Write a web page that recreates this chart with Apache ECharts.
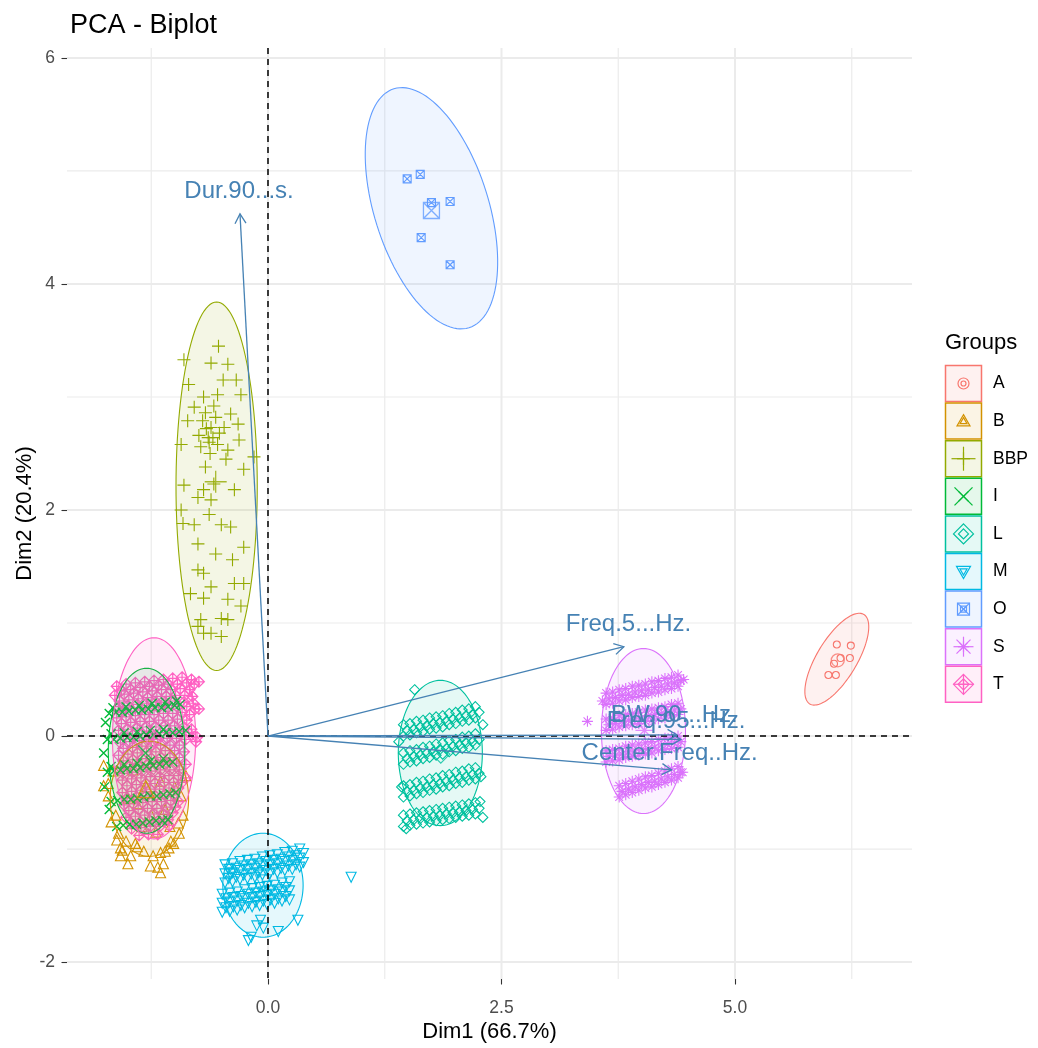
<!DOCTYPE html>
<html><head><meta charset="utf-8">
<script src="https://cdn.jsdelivr.net/npm/echarts@6/dist/echarts.min.js"></script>
<style>html,body{margin:0;padding:0;background:#fff}#c{width:1038px;height:1048px}</style>
</head><body><div id="c"></div>
<script>
// ---------------- DATA ----------------
const groups = ['A','B','BBP','I','L','M','O','S','T'];
const groupColors = ['#F8766D','#D39200','#93AA00','#00BA38','#00C19F','#00B9E3','#619CFF','#DB72FB','#FF61C3'];
const zip = (xs, ys) => xs.map((x, i) => [x, ys[i]]);

const ptsA = [[6.09,0.81],[6.24,0.80],[6.23,0.69],[6.13,0.69],[6.06,0.64],[6.00,0.54],[6.08,0.54]];
const ptsB = [[-1.76,-0.26],[-1.76,-0.44],[-1.71,-0.53],[-1.63,-0.70],[-1.68,-0.76],[-1.60,-0.86],[-1.52,-0.93],[-1.42,-0.95],
  [-1.56,-1.01],[-1.47,-1.06],[-1.58,-1.06],[-1.50,-1.13],[-1.23,-1.06],[-1.15,-1.03],[-1.06,-0.99],[-1.01,-0.95],[-1.04,-0.93],
  [-0.95,-0.86],[-0.91,-0.70],[-0.93,-0.53],[-0.88,-0.35],[-1.26,-1.15],[-1.18,-1.16],[-1.12,-1.13],[-1.15,-1.21],[-1.40,-0.60],
  [-1.25,-0.70],[-1.10,-0.65],[-1.30,-0.45],[-1.15,-0.40],[-1.45,-0.30],[-1.35,-0.80],[-1.20,-0.85],[-1.05,-0.80],[-1.50,-0.55],
  [-1.00,-0.45],[-1.71,-0.42],[-0.96,-0.77],[-1.10,-1.02],[-1.58,-0.99],[-1.66,-0.31],[-1.40,-0.98],[-1.33,-1.02],[-1.62,-0.92]];
const ptsBBP = [[-0.53,3.45],[-0.61,3.30],[-0.43,3.29],[-0.90,3.33],[-0.85,3.11],[-0.48,3.15],[-0.34,3.15],[-0.29,3.02],[-0.69,3.00],
  [-0.54,3.02],[-0.79,2.91],[-0.40,2.85],[-0.70,2.79],[-0.86,2.79],[-0.61,2.73],[-0.47,2.73],[-0.32,2.76],[-0.64,2.64],[-0.54,2.58],
  [-0.72,2.56],[-0.43,2.53],[-0.93,2.58],[-0.31,2.62],[-0.15,2.47],[-0.26,2.36],[-0.58,2.23],[-0.90,2.22],[-0.69,2.18],[-0.36,2.18],
  [-0.61,2.09],[-0.75,2.11],[-0.93,2.00],[-0.63,1.96],[-0.79,1.87],[-0.50,1.87],[-0.40,1.85],[-0.91,1.88],[-0.26,1.67],[-0.75,1.70],
  [-0.56,1.61],[-0.38,1.56],[-0.75,1.47],[-0.69,1.44],[-0.26,1.35],[-0.36,1.35],[-0.61,1.32],[-0.83,1.26],[-0.69,1.22],[-0.43,1.21],
  [-0.29,1.15],[-0.50,1.04],[-0.43,1.03],[-0.72,1.03],[-0.75,0.97],[-0.61,0.91],[-0.50,0.88],[-0.69,0.91],[-0.67,2.86],[-0.56,2.82],
  [-0.59,2.64],[-0.45,2.45],[-0.67,2.38],[-0.74,2.66],[-0.62,2.50],[-0.52,2.68],[-0.66,2.72],[-0.58,2.92],[-0.63,2.60]];

// I: thin diagonal bands
const ptsI = [].concat(
  zip([-1.70,-1.63,-1.56,-1.49,-1.42,-1.35,-1.28,-1.21,-1.14,-1.07,-1.00,-0.94],[0.20,0.21,0.21,0.22,0.23,0.23,0.24,0.25,0.25,0.26,0.27,0.28]),
  zip([-1.66,-1.52,-1.38,-1.24,-1.10,-0.98],[0.25,0.26,0.27,0.29,0.30,0.31]),
  zip([-1.72,-1.65,-1.58,-1.51,-1.44,-1.37,-1.30,-1.23,-1.16,-1.09,-1.02,-0.95,-0.88],[-0.03,-0.03,-0.02,-0.01,-0.01,0.00,0.01,0.01,0.02,0.03,0.03,0.04,0.05]),
  zip([-1.68,-1.54,-1.40,-1.26,-1.12],[0.02,0.03,0.04,0.05,0.06]),
  zip([-1.72,-1.65,-1.58,-1.51,-1.44,-1.37,-1.30,-1.23,-1.16,-1.09,-1.02],[-0.32,-0.31,-0.30,-0.29,-0.29,-0.28,-0.27,-0.26,-0.25,-0.24,-0.23]),
  zip([-1.68,-1.54,-1.40,-1.26,-1.12],[-0.27,-0.25,-0.24,-0.22,-0.20]),
  zip([-1.68,-1.61,-1.54,-1.47,-1.40,-1.33,-1.26,-1.19,-1.12,-1.05,-0.99],[-0.58,-0.57,-0.56,-0.56,-0.55,-0.54,-0.53,-0.53,-0.52,-0.51,-0.50]),
  zip([-1.62,-1.55,-1.48,-1.41,-1.34,-1.27,-1.20,-1.13,-1.07],[-0.80,-0.79,-0.78,-0.78,-0.77,-0.76,-0.75,-0.75,-0.74]),
  [[-1.76,-0.15],[-1.75,-0.45],[-1.74,0.12],[-1.70,-0.65]]
);

// L: four thick diagonal bands
const xL  = [1.45,1.52,1.59,1.66,1.73,1.80,1.87,1.94,2.01,2.08,2.15,2.22];
const xLm = [1.49,1.56,1.63,1.70,1.77,1.84,1.91,1.98,2.05,2.12,2.19,2.26];
const ptsL = [].concat(
  zip(xL,[0.10,0.11,0.13,0.14,0.16,0.17,0.18,0.20,0.21,0.23,0.24,0.26]),
  zip(xLm,[0.05,0.06,0.08,0.09,0.11,0.12,0.13,0.15,0.16,0.18,0.19,0.21]),
  zip(xL,[0.00,0.01,0.03,0.04,0.06,0.07,0.08,0.10,0.11,0.13,0.14,0.16]),
  zip(xL,[-0.15,-0.13,-0.12,-0.10,-0.09,-0.07,-0.06,-0.04,-0.03,-0.01,0.00,0.02]),
  zip(xLm,[-0.20,-0.18,-0.17,-0.15,-0.14,-0.12,-0.11,-0.09,-0.08,-0.06,-0.05,-0.03]),
  zip(xL,[-0.25,-0.23,-0.22,-0.20,-0.19,-0.17,-0.16,-0.14,-0.13,-0.11,-0.10,-0.08]),
  zip(xL,[-0.44,-0.43,-0.41,-0.40,-0.38,-0.37,-0.35,-0.34,-0.32,-0.31,-0.29,-0.28]),
  zip(xLm,[-0.49,-0.48,-0.46,-0.45,-0.43,-0.42,-0.40,-0.39,-0.37,-0.36,-0.34,-0.33]),
  zip(xL,[-0.54,-0.53,-0.51,-0.50,-0.48,-0.47,-0.45,-0.44,-0.42,-0.41,-0.39,-0.38]),
  zip(xL,[-0.70,-0.69,-0.68,-0.67,-0.66,-0.65,-0.64,-0.63,-0.62,-0.61,-0.60,-0.59]),
  zip(xLm,[-0.75,-0.74,-0.73,-0.72,-0.71,-0.70,-0.69,-0.68,-0.67,-0.66,-0.65,-0.64]),
  zip(xL,[-0.80,-0.79,-0.78,-0.77,-0.76,-0.75,-0.74,-0.73,-0.72,-0.71,-0.70,-0.69]),
  [[1.40,-0.05],[2.30,0.10],[2.28,-0.36],[2.30,-0.72],[1.43,-0.45],[1.57,0.41],[2.27,-0.58],[1.48,-0.82]]
);

// M: two thick bands + stragglers
const xM1  = [-0.46,-0.38,-0.30,-0.22,-0.14,-0.06,0.02,0.10,0.18,0.26,0.34];
const xM1m = [-0.42,-0.34,-0.26,-0.18,-0.10,-0.02,0.06,0.14,0.22,0.30,0.38];
const xM2  = [-0.49,-0.41,-0.33,-0.25,-0.17,-0.09,-0.01,0.07,0.15,0.23];
const xM2m = [-0.45,-0.37,-0.29,-0.21,-0.13,-0.05,0.03,0.11,0.19];
const ptsM = [].concat(
  zip(xM1,[-1.14,-1.13,-1.11,-1.10,-1.09,-1.07,-1.06,-1.05,-1.03,-1.02,-1.00]),
  zip(xM1m,[-1.18,-1.17,-1.15,-1.14,-1.13,-1.11,-1.10,-1.09,-1.07,-1.06,-1.04]),
  zip(xM1,[-1.22,-1.21,-1.19,-1.18,-1.17,-1.15,-1.14,-1.13,-1.11,-1.10,-1.08]),
  zip(xM1m,[-1.26,-1.25,-1.23,-1.22,-1.21,-1.19,-1.18,-1.17,-1.15,-1.14,-1.12]),
  zip(xM1,[-1.30,-1.29,-1.27,-1.26,-1.25,-1.23,-1.22,-1.21,-1.19,-1.18,-1.16]),
  zip(xM2,[-1.40,-1.39,-1.38,-1.36,-1.35,-1.34,-1.33,-1.32,-1.30,-1.29]),
  zip(xM2m,[-1.44,-1.43,-1.42,-1.40,-1.39,-1.38,-1.37,-1.36,-1.34]),
  zip(xM2,[-1.48,-1.47,-1.46,-1.44,-1.43,-1.42,-1.41,-1.40,-1.38,-1.37]),
  zip(xM2m,[-1.52,-1.51,-1.50,-1.48,-1.47,-1.46,-1.45,-1.44,-1.42]),
  zip(xM2,[-1.56,-1.55,-1.54,-1.52,-1.51,-1.50,-1.49,-1.48,-1.46,-1.45]),
  [[0.32,-1.63],[0.11,-1.73],[-0.08,-1.63],[-0.18,-1.78],[-0.21,-1.81],[-0.05,-1.70],[-0.40,-1.22],[0.89,-1.25],[-0.12,-1.68]]
);
const ptsO = [[1.49,4.93],[1.63,4.97],[1.75,4.72],[1.95,4.73],[1.64,4.41],[1.95,4.17]];

// S: four bands
const xS   = [3.62,3.69,3.76,3.83,3.90,3.97,4.04,4.11,4.18,4.25,4.32,4.39];
const xSm  = [3.65,3.72,3.79,3.86,3.93,4.00,4.07,4.14,4.21,4.28,4.35,4.42];
const xS4  = [3.76,3.83,3.90,3.97,4.04,4.11,4.18,4.25,4.32,4.39];
const xS4m = [3.79,3.86,3.93,4.00,4.07,4.14,4.21,4.28,4.35,4.42];
const ptsS = [].concat(
  zip(xS,[0.38,0.39,0.41,0.42,0.44,0.45,0.46,0.48,0.49,0.51,0.52,0.54]),
  zip(xSm,[0.33,0.34,0.36,0.37,0.39,0.40,0.41,0.43,0.44,0.46,0.47,0.49]),
  zip(xS,[0.28,0.29,0.31,0.32,0.34,0.35,0.36,0.38,0.39,0.41,0.42,0.44]),
  zip(xS,[0.15,0.16,0.18,0.19,0.20,0.21,0.23,0.24,0.25,0.26,0.28,0.29]),
  zip(xSm,[0.10,0.11,0.13,0.14,0.15,0.16,0.18,0.19,0.20,0.21,0.23,0.24]),
  zip(xS,[0.05,0.06,0.08,0.09,0.10,0.11,0.13,0.14,0.15,0.16,0.18,0.19]),
  zip(xS,[-0.13,-0.12,-0.11,-0.09,-0.08,-0.07,-0.06,-0.05,-0.03,-0.02,-0.01,0.00]),
  zip(xSm,[-0.18,-0.17,-0.16,-0.14,-0.13,-0.12,-0.11,-0.10,-0.08,-0.07,-0.06,-0.05]),
  zip(xS,[-0.23,-0.22,-0.21,-0.19,-0.18,-0.17,-0.16,-0.15,-0.13,-0.12,-0.11,-0.10]),
  zip(xS4,[-0.44,-0.42,-0.40,-0.38,-0.36,-0.35,-0.33,-0.31,-0.29,-0.27]),
  zip(xS4m,[-0.49,-0.47,-0.45,-0.43,-0.41,-0.40,-0.38,-0.36,-0.34,-0.32]),
  zip(xS4,[-0.54,-0.52,-0.50,-0.48,-0.46,-0.45,-0.43,-0.41,-0.39,-0.37]),
  [[3.42,0.13],[4.45,0.50],[3.58,0.31],[4.44,-0.32]]
);

// T: dense mass of rows
const ptsT = [].concat(
  zip([-1.62,-1.52,-1.42,-1.32,-1.22,-1.12,-1.02,-0.92,-0.82,-0.74],[0.44,0.46,0.47,0.48,0.49,0.50,0.51,0.52,0.50,0.48]),
  zip([-1.57,-1.47,-1.37,-1.27,-1.17,-1.07,-0.97,-0.87,-0.79],[0.40,0.41,0.43,0.44,0.45,0.46,0.46,0.47,0.46]),
  zip([-1.64,-1.54,-1.44,-1.34,-1.24,-1.14,-1.04,-0.94,-0.84],[0.36,0.37,0.38,0.39,0.40,0.41,0.41,0.42,0.41]),
  zip([-1.59,-1.49,-1.39,-1.29,-1.19,-1.09,-0.99,-0.89,-0.81],[0.31,0.32,0.33,0.34,0.35,0.35,0.36,0.36,0.35]),
  zip([-1.60,-1.50,-1.40,-1.30,-1.20,-1.10,-1.00,-0.90,-0.80,-0.74],[0.26,0.27,0.28,0.29,0.30,0.30,0.31,0.30,0.29,0.24]),
  zip([-1.57,-1.47,-1.37,-1.27,-1.17,-1.07,-0.97,-0.87,-0.78],[0.21,0.22,0.23,0.24,0.25,0.25,0.26,0.26,0.24]),
  zip([-1.62,-1.52,-1.42,-1.32,-1.22,-1.12,-1.02,-0.92,-0.84],[0.16,0.17,0.18,0.19,0.19,0.20,0.20,0.21,0.19]),
  zip([-1.57,-1.47,-1.37,-1.27,-1.17,-1.07,-0.97,-0.87],[0.11,0.12,0.13,0.13,0.14,0.14,0.15,0.14]),
  zip([-1.60,-1.50,-1.40,-1.30,-1.20,-1.10,-1.00,-0.90,-0.82],[0.05,0.06,0.07,0.08,0.08,0.09,0.09,0.08,0.06]),
  zip([-1.55,-1.45,-1.35,-1.25,-1.15,-1.05,-0.95,-0.85,-0.76],[0.00,0.01,0.02,0.02,0.03,0.03,0.04,0.03,-0.01]),
  zip([-1.58,-1.48,-1.38,-1.28,-1.18,-1.08,-0.98,-0.88,-0.77],[-0.06,-0.05,-0.04,-0.03,-0.03,-0.02,-0.02,-0.03,-0.05]),
  zip([-1.55,-1.45,-1.35,-1.25,-1.15,-1.05,-0.95],[-0.11,-0.10,-0.09,-0.09,-0.08,-0.08,-0.08]),
  zip([-1.60,-1.50,-1.40,-1.30,-1.20,-1.10,-1.00,-0.90],[-0.17,-0.16,-0.15,-0.14,-0.14,-0.13,-0.13,-0.14]),
  zip([-1.55,-1.45,-1.35,-1.25,-1.15,-1.05,-0.95],[-0.22,-0.21,-0.20,-0.20,-0.19,-0.19,-0.19]),
  zip([-1.58,-1.48,-1.38,-1.28,-1.18,-1.08,-0.98,-0.88],[-0.28,-0.27,-0.26,-0.25,-0.25,-0.24,-0.24,-0.25]),
  zip([-1.55,-1.45,-1.35,-1.25,-1.15,-1.05,-0.95],[-0.33,-0.32,-0.31,-0.31,-0.30,-0.30,-0.30]),
  zip([-1.56,-1.46,-1.36,-1.26,-1.16,-1.06,-0.96,-0.88],[-0.39,-0.38,-0.37,-0.36,-0.36,-0.35,-0.35,-0.37]),
  zip([-1.51,-1.41,-1.31,-1.21,-1.11,-1.01,-0.92],[-0.44,-0.43,-0.42,-0.42,-0.41,-0.41,-0.41]),
  zip([-1.56,-1.46,-1.36,-1.26,-1.16,-1.06,-0.96],[-0.50,-0.49,-0.48,-0.47,-0.47,-0.46,-0.46]),
  zip([-1.51,-1.41,-1.31,-1.21,-1.11,-1.01],[-0.55,-0.54,-0.53,-0.53,-0.52,-0.52]),
  zip([-1.54,-1.44,-1.34,-1.24,-1.14,-1.04,-0.96],[-0.61,-0.60,-0.59,-0.58,-0.58,-0.57,-0.58]),
  zip([-1.49,-1.39,-1.29,-1.19,-1.09,-0.99],[-0.66,-0.65,-0.64,-0.64,-0.63,-0.63]),
  zip([-1.52,-1.42,-1.32,-1.22,-1.12,-1.02],[-0.72,-0.71,-0.70,-0.69,-0.69,-0.68]),
  zip([-1.47,-1.37,-1.27,-1.17,-1.07],[-0.77,-0.76,-0.75,-0.75,-0.74]),
  zip([-1.46,-1.36,-1.26,-1.16,-1.06],[-0.82,-0.81,-0.80,-0.80,-0.79]),
  zip([-1.38,-1.28,-1.18],[-0.88,-0.87,-0.87])
);
const groupPoints = [ptsA, ptsB, ptsBBP, ptsI, ptsL, ptsM, ptsO, ptsS, ptsT];

const groupMeans = [[6.10,0.67],[-1.31,-0.47],[-0.56,2.25],[-1.31,-0.15],[1.85,-0.16],[-0.05,-1.30],[1.75,4.65],[4.03,0.05],[-1.22,-0.03]];

// concentration ellipses: centre and two half-axis vectors (data units)
const ellipseCenters = [[6.09,0.68],[-1.27,-0.555],[-0.55,2.21],[-1.30,-0.13],[1.845,-0.15],[-0.054,-1.32],[1.75,4.67],[4.02,0.044],[-1.22,-0.02]];
const ellipseAxisA  = [[0.289,0.396],[0.42,0],[0.435,0],[0.41,0],[0.45,0],[0.43,0],[0.402,-1.057],[0.45,0],[0.445,0]];
const ellipseAxisB  = [[0.183,-0.091],[0,0.51],[0,1.63],[0,0.73],[0,0.643],[0,0.46],[0.584,0.150],[0,0.73],[0,0.89]];

// variable arrows
const varNames  = ['Freq.5...Hz.','Dur.90...s.','BW.90...Hz.','Freq.95...Hz.','Center.Freq..Hz.'];
const varTips   = [[3.81,0.79],[-0.30,4.62],[4.38,0.01],[4.42,-0.03],[4.32,-0.30]];
const varLabels = [[3.86,0.99],[-0.31,4.82],[4.35,0.185],[4.37,0.13],[4.30,-0.15]];

const xTicks = [0, 2.5, 5];
const yTicks = [-2, 0, 2, 4, 6];
const xMinor = [-1.25, 1.25, 3.75, 6.25];
const yMinor = [-1, 1, 3, 5];
const X_MIN = -2.152, X_MAX = 6.895, Y_MIN = -2.15, Y_MAX = 6.088;

// ---------------- STYLE ----------------
const FONT = '"Liberation Sans", Arial, sans-serif';
const SYM = {
  A: 'circle',
  B: 'triangle',
  BBP: 'path://M5,0L5,10M0,5L10,5',
  I: 'path://M0,0L10,10M10,0L0,10',
  L: 'diamond',
  M: 'path://M0,0L10,0L5,8.66Z',
  O: 'path://M0,0L10,0L10,10L0,10ZM0,0L10,10M10,0L0,10',
  S: 'path://M5,0L5,10M0,5L10,5M1.5,1.5L8.5,8.5M8.5,1.5L1.5,8.5',
  T: 'path://M5,0L10,5L5,10L0,5ZM5,0L5,10M0,5L10,5'
};
const SIZE = {A:7, B:10, BBP:13, I:9, L:10, M:10, O:8, S:11, T:11};
const LW = {A:1.1, B:1.1, BBP:1.1, I:1.4, L:1.1, M:1.1, O:1.1, S:1.1, T:1.2};
const MEAN_SIZE = {A:13, B:17, BBP:22, I:15, L:18, M:16, O:16, S:18, T:18};
const LEG_SMALL = {A:5, B:7, BBP:13, I:10, L:10, M:7, O:6, S:11, T:11};
const LEG_BIG = {A:11, B:13, BBP:24, I:18, L:20, M:14, O:12, S:20, T:20};

function rgba(hex, a){const n=parseInt(hex.slice(1),16);return `rgba(${n>>16},${(n>>8)&255},${n&255},${a})`;}

function glyph(g, cx, cy, s, col){
  const h=s/2, st={stroke:col, lineWidth:1.2, fill:null};
  const ln=(x1,y1,x2,y2)=>({type:'line', shape:{x1:cx+x1,y1:cy+y1,x2:cx+x2,y2:cy+y2}, style:st});
  const pg=(pts)=>({type:'polygon', shape:{points:pts.map(p=>[cx+p[0],cy+p[1]])}, style:st});
  switch(g){
    case 'A': return [{type:'circle', shape:{cx,cy,r:h}, style:st}];
    case 'B': return [pg([[0,-h],[h,h*0.73],[-h,h*0.73]])];
    case 'BBP': return [ln(0,-h,0,h), ln(-h,0,h,0)];
    case 'I': return [ln(-h,-h,h,h), ln(h,-h,-h,h)];
    case 'L': return [pg([[0,-h],[h,0],[0,h],[-h,0]])];
    case 'M': return [pg([[-h,-h*0.73],[h,-h*0.73],[0,h]])];
    case 'O': return [pg([[-h,-h],[h,-h],[h,h],[-h,h]]), ln(-h,-h,h,h), ln(h,-h,-h,h)];
    case 'S': { const d=h*0.7; return [ln(0,-h,0,h), ln(-h,0,h,0), ln(-d,-d,d,d), ln(d,-d,-d,d)]; }
    case 'T': return [pg([[0,-h],[h,0],[0,h],[-h,0]]), ln(0,-h,0,h), ln(-h,0,h,0)];
  }
  return [];
}

const series = [];
const gridData = [];
xTicks.forEach(v=>gridData.push([v,0,0,1]));
xMinor.forEach(v=>gridData.push([v,0,0,0]));
yTicks.forEach(v=>gridData.push([0,v,1,1]));
yMinor.forEach(v=>gridData.push([0,v,1,0]));
series.push({
  type:'custom', z:0, silent:true, data:gridData, clip:false, encode:{x:0,y:1},
  renderItem(params, api){
    const cs = params.coordSys;
    const horiz = api.value(2)===1, major = api.value(3)===1;
    let shape;
    if(horiz){const p=api.coord([0, api.value(1)]); shape={x1:cs.x,y1:p[1],x2:cs.x+cs.width,y2:p[1]};}
    else {const p=api.coord([api.value(0), 0]); shape={x1:p[0],y1:cs.y,x2:p[0],y2:cs.y+cs.height};}
    return {type:'line', shape, style:{stroke:'#EBEBEB', lineWidth: major?2:1.2}};
  }
});
const order = [0,1,2,4,5,6,7,8,3];
order.forEach(gi=>{
  const g = groups[gi];
  series.push({
    type:'scatter', name:g, z:2, silent:true, data:groupPoints[gi],
    symbol:SYM[g], symbolSize:SIZE[g],
    itemStyle:{color:'rgba(0,0,0,0)', borderColor:groupColors[gi], borderWidth:LW[g], opacity:1}
  });
});
const ellData = ellipseCenters.map((c,i)=>[c[0],c[1],ellipseAxisA[i][0],ellipseAxisA[i][1],ellipseAxisB[i][0],ellipseAxisB[i][1],i]);
series.push({
  type:'custom', z:3, silent:true, data:ellData, encode:{x:0,y:1},
  renderItem(params, api){
    const cx=api.value(0), cy=api.value(1), ax=api.value(2), ay=api.value(3), bx=api.value(4), by=api.value(5), gi=api.value(6);
    const pts=[];
    for(let k=0;k<=120;k++){const t=k/120*2*Math.PI;const c=Math.cos(t), s=Math.sin(t);
      pts.push(api.coord([cx+ax*c+bx*s, cy+ay*c+by*s]));}
    return {type:'polygon', shape:{points:pts}, style:{fill:rgba(groupColors[gi],0.1), stroke:groupColors[gi], lineWidth:1.1}};
  }
});
groups.forEach((g,gi)=>{
  series.push({
    type:'scatter', z:4, silent:true, data:[groupMeans[gi]],
    symbol:SYM[g], symbolSize:MEAN_SIZE[g],
    itemStyle:{color:'rgba(0,0,0,0)', borderColor:groupColors[gi], borderWidth:1.3}
  });
});
series.push({
  type:'custom', z:5, silent:true, data:[[0,0,0],[0,0,1]], encode:{x:0,y:1}, clip:false,
  renderItem(params, api){
    const cs=params.coordSys; const p=api.coord([0,0]);
    const shape = api.value(2)===1 ? {x1:cs.x,y1:p[1],x2:cs.x+cs.width,y2:p[1]} : {x1:p[0],y1:cs.y,x2:p[0],y2:cs.y+cs.height};
    return {type:'line', shape, style:{stroke:'#000', lineWidth:1.5, lineDash:[6,5]}};
  }
});
const arrData = varTips.map((t,i)=>[t[0],t[1],varLabels[i][0],varLabels[i][1],i]);
series.push({
  type:'custom', z:6, silent:true, data:arrData, encode:{x:0,y:1},
  renderItem(params, api){
    const p0=api.coord([0,0]), p1=api.coord([api.value(0),api.value(1)]);
    const lp=api.coord([api.value(2),api.value(3)]);
    const ang=Math.atan2(p1[1]-p0[1], p1[0]-p0[0]);
    const L=11, w=Math.PI/6;
    const h1=[p1[0]-L*Math.cos(ang-w), p1[1]-L*Math.sin(ang-w)];
    const h2=[p1[0]-L*Math.cos(ang+w), p1[1]-L*Math.sin(ang+w)];
    const col='#4682B4';
    return {type:'group', children:[
      {type:'line', shape:{x1:p0[0],y1:p0[1],x2:p1[0],y2:p1[1]}, style:{stroke:col,lineWidth:1.3}},
      {type:'polyline', shape:{points:[h1,p1,h2]}, style:{stroke:col,lineWidth:1.3,fill:null}},
      {type:'text', x:lp[0], y:lp[1], style:{text:varNames[api.value(4)], fill:col, font:'24px '+FONT, align:'center', verticalAlign:'middle'}}
    ]};
  }
});

const graphics = [{type:'text', x:945, y:343, style:{text:'Groups', fill:'#000', font:'22px '+FONT, verticalAlign:'middle'}}];
groups.forEach((g,i)=>{
  const top = 365 + i*37.6, cx = 963.5, cy = top+18.5, col = groupColors[i];
  graphics.push({type:'rect', shape:{x:945.5,y:top+0.5,width:36,height:36}, style:{fill:rgba(col,0.1), stroke:col, lineWidth:1.5}});
  glyph(g,cx,cy,LEG_SMALL[g],col).forEach(e=>graphics.push(e));
  glyph(g,cx,cy,LEG_BIG[g],col).forEach(e=>graphics.push(e));
  graphics.push({type:'text', x:993, y:cy, style:{text:g, fill:'#000', font:'17.5px '+FONT, verticalAlign:'middle'}});
});

const chart = echarts.init(document.getElementById('c'), null, {renderer:'canvas'});
chart.setOption({
  animation:false,
  backgroundColor:'#fff',
  title:{text:'PCA - Biplot', left:65, top:7, textStyle:{fontSize:27, fontWeight:'normal', color:'#000', fontFamily:FONT}},
  grid:{left:67, right:126, top:48, bottom:65, containLabel:false},
  xAxis:{type:'value', min:X_MIN, max:X_MAX, name:'Dim1 (66.7%)', nameLocation:'middle', nameGap:42, nameMoveOverlap:false,
    nameTextStyle:{fontSize:22, color:'#000', fontFamily:FONT},
    axisLine:{show:false, onZero:false}, splitLine:{show:false},
    axisTick:{show:true, length:5.5, customValues:xTicks, lineStyle:{color:'#333', width:1.1}},
    axisLabel:{customValues:xTicks, formatter:v=>Number(v).toFixed(1), fontSize:17.5, color:'#4D4D4D', fontFamily:FONT, margin:20}},
  yAxis:{type:'value', min:Y_MIN, max:Y_MAX, name:'Dim2 (20.4%)', nameLocation:'middle', nameGap:31, nameMoveOverlap:false,
    nameTextStyle:{fontSize:22, color:'#000', fontFamily:FONT},
    axisLine:{show:false, onZero:false}, splitLine:{show:false},
    axisTick:{show:true, length:5.5, customValues:yTicks, lineStyle:{color:'#333', width:1.1}},
    axisLabel:{customValues:yTicks, formatter:v=>String(v), fontSize:17.5, color:'#4D4D4D', fontFamily:FONT, margin:12}},
  graphic:graphics,
  series
});
</script></body></html>
